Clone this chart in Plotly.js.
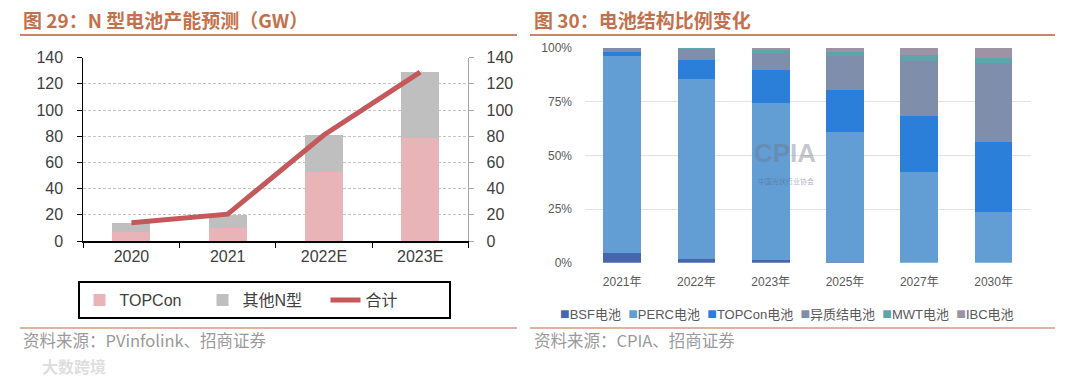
<!DOCTYPE html>
<html>
<head>
<meta charset="utf-8">
<script src="https://cdn.plot.ly/plotly-3.0.1.min.js"></script>
<style>html,body{margin:0;padding:0;background:#fff;}#chart{width:1080px;height:377px;}</style>
</head>
<body>
<div id="chart"></div>
<script>
// ---- Figure 29: N-type cell capacity forecast (GW) ----
const years = ['2020', '2021', '2022E', '2023E'];
const topconGW = [7, 10, 53, 79];
const otherNGW = [7, 10, 28, 50];
const totalGW = [14, 20.5, 81, 129];

// ---- Figure 30: cell structure share (%) ----
const shareYears = ['2021年', '2022年', '2023年', '2025年', '2027年', '2030年'];
const bsfShare = [4.7, 1.9, 1.1, 0.3, 0, 0];
const percShare = [91.6, 83.5, 73.4, 60.6, 42.1, 23.8];
const topconShare = [2.0, 9.0, 15.1, 19.5, 26.4, 32.2];
const hjtShare = [1.6, 5.1, 7.9, 16.0, 25.6, 37.1];
const mwtShare = [0.05, 0.3, 1.5, 1.6, 2.5, 2.1];
const ibcShare = [0.05, 0.2, 1.0, 2.0, 3.4, 4.8];
const shareTicks = [0, 25, 50, 75, 100];
const shareTickText = ['0%', '25%', '50%', '75%', '100%'];

const W = 1080, H = 377;
const px = x => x / W;
const py = y => (H - y) / H;
const FONT = 'Liberation Sans, Arial, Noto Sans CJK SC, sans-serif';
const CJK = 'Noto Sans CJK SC, Liberation Sans, sans-serif';

const traces = [
  {type: 'bar', name: 'TOPCon', x: years, y: topconGW, xaxis: 'x', yaxis: 'y',
   width: 0.395, marker: {color: '#e8b4b8'}},
  {type: 'bar', name: '其他N型', x: years, y: otherNGW, xaxis: 'x', yaxis: 'y',
   width: 0.395, marker: {color: '#bfbfbf'}},
  {type: 'scatter', mode: 'lines', name: '合计', x: years, y: totalGW, xaxis: 'x', yaxis: 'y2',
   line: {color: '#c4585a', width: 5}},
];

const shareSeries = [
  ['BSF电池', bsfShare, '#4866ae'],
  ['PERC电池', percShare, '#629dd4'],
  ['TOPCon电池', topconShare, '#2b7fd8'],
  ['异质结电池', hjtShare, '#7f8eaa'],
  ['MWT电池', mwtShare, '#5ea4aa'],
  ['IBC电池', ibcShare, '#9d93a4'],
];
shareSeries.forEach(([name, vals, color]) => {
  traces.push({type: 'bar', name: name, x: shareYears, y: vals, xaxis: 'x2', yaxis: 'y3',
    width: 0.507, marker: {color: color}, showlegend: false});
});
// legend of figure 30, built from the series names and colours
const shareLegendText = shareSeries
  .map(([name, vals, color]) => '<span style="color:' + color + ';font-size:16px">■</span>' + name)
  .join('&nbsp;&nbsp;');

const layout = {
  width: W, height: H,
  margin: {l: 0, r: 0, t: 0, b: 0},
  paper_bgcolor: '#ffffff', plot_bgcolor: 'rgba(0,0,0,0)',
  barmode: 'stack',
  font: {family: FONT, color: '#404040'},
  xaxis: {domain: [px(83.3), px(468.3)], anchor: 'y', type: 'category',
    tickson: 'boundaries', ticks: 'outside', ticklen: 5, tickcolor: '#000',
    showline: true, linecolor: '#000', linewidth: 1.5, showgrid: false,
    tickfont: {size: 16, color: '#404040'}},
  yaxis: {domain: [py(241), py(57.7)], anchor: 'x', range: [0, 140], dtick: 20,
    ticks: 'outside', ticklen: 5, tickcolor: '#000', showline: true, linecolor: '#000', linewidth: 1,
    gridcolor: '#c4c4c4', griddash: '3px,2px', zeroline: false,
    tickfont: {size: 16, color: '#404040'}, ticklabelstandoff: 11},
  yaxis2: {overlaying: 'y', side: 'right', anchor: 'x', range: [0, 140], dtick: 20,
    ticks: 'outside', ticklen: 5, tickcolor: '#a6a6a6', showline: true, linecolor: '#a6a6a6',
    showgrid: false, zeroline: false, tickfont: {size: 16, color: '#404040'}, ticklabelstandoff: 9},
  xaxis2: {domain: [px(585), px(1030.7)], anchor: 'y3', type: 'category',
    showline: false, ticks: '', showgrid: false, tickfont: {size: 12, color: '#595959'},
    ticklabelstandoff: 10},
  yaxis3: {domain: [py(262.7), py(48)], anchor: 'x2', range: [0, 100],
    tickmode: 'array', tickvals: shareTicks, ticktext: shareTickText, showline: false, ticks: '',
    gridcolor: '#e2e2e2', zeroline: false, tickfont: {size: 12, color: '#595959'},
    ticklabelstandoff: 12},
  legend: {orientation: 'h', x: px(264), xanchor: 'center', y: py(300), yanchor: 'middle',
    bordercolor: '#000', borderwidth: 2, bgcolor: '#fff', entrywidth: 78,
    font: {size: 16, color: '#404040', family: FONT}, traceorder: 'normal'},
  shapes: [
    {type: 'line', xref: 'paper', yref: 'paper', x0: px(20), x1: px(517), y0: py(35), y1: py(35), line: {color: '#c8876a', width: 2}},
    {type: 'line', xref: 'paper', yref: 'paper', x0: px(530), x1: px(1055), y0: py(35), y1: py(35), line: {color: '#c8876a', width: 2}},
    {type: 'line', xref: 'paper', yref: 'paper', x0: px(20), x1: px(517), y0: py(328), y1: py(328), line: {color: '#d49a80', width: 1.5}},
    {type: 'line', xref: 'paper', yref: 'paper', x0: px(530), x1: px(1055), y0: py(328), y1: py(328), line: {color: '#d49a80', width: 1.5}},
  ],
  annotations: [
    {text: '<b>图 29：N 型电池产能预测（GW）</b>', xref: 'paper', yref: 'paper', x: px(21), y: py(19),
     xanchor: 'left', yanchor: 'middle', showarrow: false, font: {family: CJK, size: 19, color: '#c3714d'}},
    {text: '<b>图 30：电池结构比例变化</b>', xref: 'paper', yref: 'paper', x: px(532), y: py(19),
     xanchor: 'left', yanchor: 'middle', showarrow: false, font: {family: CJK, size: 19, color: '#c3714d'}},
    {text: shareLegendText, xref: 'paper', yref: 'paper', x: px(787), y: py(313),
     xanchor: 'center', yanchor: 'middle', showarrow: false, font: {family: FONT, size: 13, color: '#595959'}},
    {text: '资料来源：PVinfolink、招商证券', xref: 'paper', yref: 'paper', x: px(21), y: py(340),
     xanchor: 'left', yanchor: 'middle', showarrow: false, font: {family: CJK, size: 16.5, color: '#9a9a9a'}},
    {text: '资料来源：CPIA、招商证券', xref: 'paper', yref: 'paper', x: px(532), y: py(340),
     xanchor: 'left', yanchor: 'middle', showarrow: false, font: {family: CJK, size: 16.5, color: '#9a9a9a'}},
    {text: '<b>CPIA</b>', xref: 'paper', yref: 'paper', x: px(785), y: py(153),
     xanchor: 'center', yanchor: 'middle', showarrow: false, font: {family: FONT, size: 26, color: 'rgba(110,120,135,0.42)'}},
    {text: '中国光伏行业协会', xref: 'paper', yref: 'paper', x: px(786), y: py(181),
     xanchor: 'center', yanchor: 'middle', showarrow: false, font: {family: CJK, size: 7, color: 'rgba(90,100,130,0.5)'}},
    {text: '<b>大数跨境</b>', xref: 'paper', yref: 'paper', x: px(40), y: py(366),
     xanchor: 'left', yanchor: 'middle', showarrow: false, font: {family: CJK, size: 16, color: 'rgba(200,200,200,0.6)'}},
  ],
};

Plotly.newPlot('chart', traces, layout, {displayModeBar: false, staticPlot: true});
</script>
</body>
</html>
